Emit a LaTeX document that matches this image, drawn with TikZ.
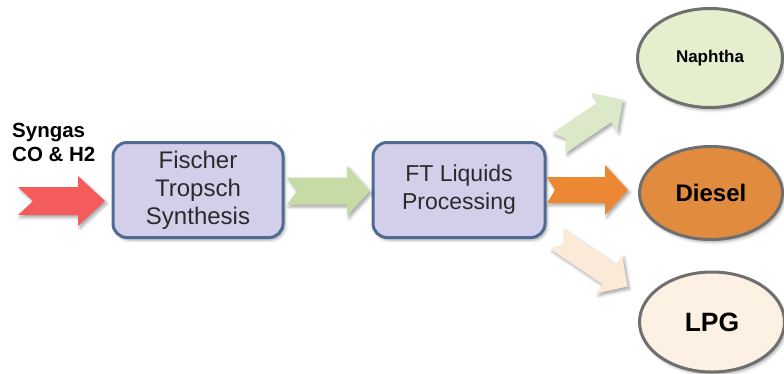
\documentclass[tikz,border=0pt]{standalone}
\usepackage{fontspec}
\setmainfont{Liberation Sans}
\usetikzlibrary{shapes.geometric,shadows.blur}

\definecolor{boxfill}{HTML}{D3CFEB}
\definecolor{boxline}{HTML}{4F6B94}
\definecolor{boxtext}{HTML}{2A2A2A}
\definecolor{ringline}{HTML}{6F6F6F}
\definecolor{feedred}{HTML}{F45B5B}
\definecolor{midgreen}{HTML}{C6DBA6}
\definecolor{naphgreen}{HTML}{DCE9C9}
\definecolor{naphfill}{HTML}{E5EECD}
\definecolor{dieselarrow}{HTML}{EC8833}
\definecolor{dieselfill}{HTML}{E08B3E}
\definecolor{lpgarrow}{HTML}{FCEAD8}
\definecolor{lpgfill}{HTML}{FDF1E3}

% Notched block arrow: style, tail coordinate, angle, length,
% body half-width, head half-width, head length, notch depth
\newcommand\fatarrow[8]{%
  \begin{scope}[shift={(#2)}, rotate=#3]
    \fill[#1] (0,-#5) -- ({#4-#7},-#5) -- ({#4-#7},-#6) -- (#4,0)
      -- ({#4-#7},#6) -- ({#4-#7},#5) -- (0,#5) -- (#8,0) -- cycle;
  \end{scope}}

\tikzset{
  softshadow/.style={blur shadow={shadow xshift=2pt, shadow yshift=-2.5pt,
      shadow blur radius=3pt, shadow opacity=35}},
  procbox/.style={draw=boxline, line width=3pt, fill=boxfill,
      rounded corners=14pt, minimum width=170pt, minimum height=95pt,
      align=center, text=boxtext, softshadow,
      font=\fontsize{23}{28}\selectfont},
  product/.style={ellipse, draw=ringline, line width=3pt, inner sep=0pt,
      text=black, softshadow},
}

\begin{document}
\begin{tikzpicture}[x=1pt, y=-1pt]
\useasboundingbox (0,0) rectangle (784,373);

% feed label
\node[anchor=west, align=left, inner sep=0pt,
      font=\bfseries\fontsize{20.5}{24}\selectfont] (feed) at (12,142)
      {Syngas\\CO \& H2};

% process steps
\node[procbox, font=\fontsize{24}{28}\selectfont, inner sep=1pt] (fts) at (198,190)
      {Fischer\\Tropsch\\Synthesis};
\node[procbox, minimum width=172pt] (ftl) at (459,190) {FT Liquids\\Processing};

% products
\node[product, fill=naphfill, minimum width=145pt, minimum height=99pt,
      font=\bfseries\fontsize{17}{20}\selectfont] (naph) at (710,58) {Naphtha};
\node[product, fill=dieselfill, minimum width=143pt, minimum height=93pt,
      font=\bfseries\fontsize{24}{28}\selectfont] (diesel) at (711,193) {Diesel};
\node[product, fill=lpgfill, minimum width=145pt, minimum height=100pt,
      font=\bfseries\fontsize{26.5}{30}\selectfont] (lpg) at (712,322) {LPG};

% arrow tails
\coordinate (feedtail) at (18,201);
\coordinate (ftstail) at (287,191);
\coordinate (dieseltail) at (547,190);
\coordinate (naphtail) at (559,143);
\coordinate (lpgtail) at (557,239);

% block arrows
\fatarrow{fill=feedred, softshadow}{feedtail}{0}{87}{14}{25}{27}{15}
\fatarrow{fill=midgreen, softshadow}{ftstail}{0}{83}{13.5}{25}{23}{10}
\fatarrow{fill=dieselarrow, softshadow}{dieseltail}{0}{81}{13}{25}{23}{8}
\fatarrow{fill=naphgreen, softshadow}{naphtail}{34}{77}{12}{23}{22}{8}
\fatarrow{fill=lpgarrow, softshadow}{lpgtail}{-34}{85}{12}{23}{22}{8}
\end{tikzpicture}
\end{document}
